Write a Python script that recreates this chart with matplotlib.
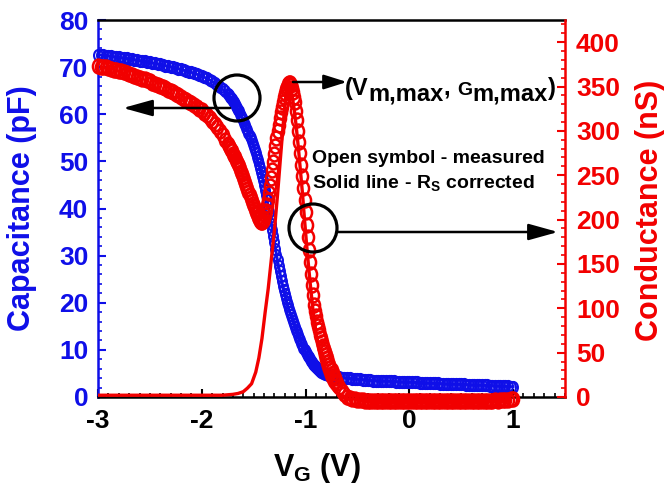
import matplotlib
matplotlib.use('Agg')
import matplotlib.pyplot as plt
from matplotlib.patches import Ellipse
from matplotlib.path import Path
from matplotlib.ticker import MultipleLocator

plt.rcParams['font.family'] = ['Liberation Sans', 'DejaVu Sans']
plt.rcParams['font.weight'] = 'bold'
plt.rcParams['axes.unicode_minus'] = False
plt.rcParams['mathtext.fontset'] = 'custom'
plt.rcParams['mathtext.rm'] = 'Liberation Sans:bold'
plt.rcParams['mathtext.bf'] = 'Liberation Sans:bold'
plt.rcParams['mathtext.it'] = 'Liberation Sans:bold'

BLUE = '#0f0fe8'
RED = '#f20000'

# ---- gate-voltage sweep of the measurement (V) ----
vg = [-3.000, -2.975, -2.950, -2.925, -2.900, -2.875, -2.850, -2.825, -2.800, -2.775,
      -2.750, -2.725, -2.700, -2.675, -2.650, -2.625, -2.600, -2.575, -2.550, -2.525,
      -2.500, -2.475, -2.450, -2.425, -2.400, -2.375, -2.350, -2.325, -2.300, -2.275,
      -2.250, -2.225, -2.200, -2.175, -2.150, -2.125, -2.100, -2.075, -2.050, -2.025,
      -2.000, -1.975, -1.950, -1.925, -1.900, -1.875, -1.850, -1.825, -1.800, -1.775,
      -1.750,
      -1.74, -1.73, -1.72, -1.71, -1.70, -1.69, -1.68, -1.67, -1.66, -1.65,
      -1.64, -1.63, -1.62, -1.61, -1.60, -1.59, -1.58, -1.57, -1.56, -1.55,
      -1.54, -1.53, -1.52, -1.51, -1.50, -1.49, -1.48, -1.47, -1.46, -1.45,
      -1.44, -1.43, -1.42, -1.41, -1.40, -1.39, -1.38, -1.37, -1.36, -1.35,
      -1.34, -1.33, -1.32, -1.31, -1.30, -1.29, -1.28, -1.27, -1.26, -1.25,
      -1.24, -1.23, -1.22, -1.21, -1.20, -1.19, -1.18, -1.17, -1.16, -1.15,
      -1.14, -1.13, -1.12, -1.11, -1.10, -1.09, -1.08, -1.07, -1.06, -1.05,
      -1.04, -1.03, -1.02, -1.01, -1.00, -0.99, -0.98, -0.97, -0.96, -0.95,
      -0.94, -0.93, -0.92, -0.91, -0.90, -0.89, -0.88, -0.87, -0.86, -0.85,
      -0.84, -0.83, -0.82, -0.81, -0.80, -0.79, -0.78, -0.77, -0.76, -0.75,
      -0.74, -0.73, -0.72, -0.71, -0.70,
      -0.675, -0.650, -0.625, -0.600, -0.575, -0.550, -0.525, -0.500, -0.475, -0.450,
      -0.425, -0.400, -0.375, -0.350, -0.325, -0.300, -0.275, -0.250, -0.225, -0.200,
      -0.175, -0.150, -0.125, -0.100, -0.075, -0.050, -0.025, 0.000, 0.025, 0.050,
      0.075, 0.100, 0.125, 0.150, 0.175, 0.200, 0.225, 0.250, 0.275, 0.300,
      0.325, 0.350, 0.375, 0.400, 0.425, 0.450, 0.475, 0.500, 0.525, 0.550,
      0.575, 0.600, 0.625, 0.650, 0.675, 0.700, 0.725, 0.750, 0.775, 0.800,
      0.825, 0.850, 0.875, 0.900, 0.925, 0.950, 0.975, 1.000]

# ---- capacitance (left axis, pF) ----
cap_pf = [72.6, 72.55, 72.5, 72.45, 72.4, 72.3, 72.2, 72.15, 72.1, 72.0,
          71.9, 71.85, 71.8, 71.7, 71.6, 71.5, 71.4, 71.3, 71.2, 71.1,
          71.0, 70.9, 70.8, 70.7, 70.6, 70.45, 70.3, 70.2, 70.1, 69.95,
          69.8, 69.65, 69.5, 69.35, 69.2, 69.05, 68.9, 68.7, 68.5, 68.3,
          68.1, 67.85, 67.6, 67.3, 67.0, 66.6, 66.2, 65.75, 65.3, 64.85,
          64.3,
          64.0, 63.75, 63.5, 63.2, 62.9, 62.55, 62.2, 61.8, 61.4, 61.0,
          60.6, 60.15, 59.7, 59.2, 58.7, 58.2, 57.7, 57.15, 56.6, 56.0,
          55.45, 54.9, 54.3, 53.65, 53.0, 52.35, 51.7, 51.0, 50.25, 49.5,
          48.7, 47.85, 47.0, 46.0, 45.0, 44.0, 42.9, 41.75, 40.6, 39.35,
          38.1, 36.8, 35.45, 34.1, 32.8, 31.5, 30.2, 29.0, 27.8, 26.7,
          25.6, 24.6, 23.6, 22.7, 21.85, 21.0, 20.2, 19.45, 18.7, 18.0,
          17.35, 16.7, 16.1, 15.5, 14.9, 14.3, 13.7, 13.15, 12.6, 12.05,
          11.5, 11.0, 10.5, 10.05, 9.6, 9.2, 8.8, 8.4, 8.05, 7.7,
          7.4, 7.1, 6.85, 6.6, 6.35, 6.1, 5.9, 5.7, 5.55, 5.4,
          5.25, 5.1, 5.0, 4.9, 4.85, 4.8, 4.7, 4.65, 4.55, 4.5,
          4.45, 4.4, 4.3, 4.25, 4.2,
          4.15, 4.1, 4.05, 4.0, 3.95, 3.9, 3.85, 3.8, 3.75, 3.7,
          3.65, 3.6, 3.55, 3.5, 3.48, 3.45, 3.42, 3.4, 3.38, 3.35,
          3.32, 3.3, 3.28, 3.25, 3.22, 3.2, 3.18, 3.15, 3.12, 3.1,
          3.08, 3.05, 3.02, 3.0, 2.98, 2.95, 2.92, 2.9, 2.88, 2.85,
          2.82, 2.8, 2.78, 2.75, 2.72, 2.7, 2.69, 2.68, 2.66, 2.65,
          2.62, 2.6, 2.58, 2.55, 2.52, 2.5, 2.48, 2.45, 2.42, 2.4,
          2.38, 2.35, 2.32, 2.3, 2.28, 2.25, 2.22, 2.2]

# ---- measured conductance (right axis, nS) ----
g_meas = [373, 372.5, 372, 371.5, 371, 370, 369, 368.5, 368, 367,
          366, 365, 364, 363, 362, 361, 360, 359, 358, 357,
          356, 354.5, 353, 352, 351, 349.5, 348, 346.5, 345, 343.5,
          342, 340, 338, 336.5, 335, 333, 331, 329, 327, 325,
          323, 320.5, 318, 315, 311.5, 308, 304, 300, 295, 290,
          285,
          283, 281, 279, 277, 274.5, 272, 270, 267.5, 265, 262.5,
          260, 257, 254, 251, 248, 244.5, 241, 238, 234.5, 231,
          228, 224.5, 221, 218, 215, 212, 209, 206, 203, 200.5,
          198.5, 197.5, 197, 198.5, 201, 205, 210, 216, 222, 230,
          238, 247, 256, 265, 274, 283, 292, 300, 307, 314,
          321, 327, 333, 338, 343, 347, 350, 352.5, 354, 354,
          352, 348.5, 344, 338.5, 332, 322.5, 312, 300, 288, 275,
          262, 249, 236, 222, 208, 194, 180, 166, 152, 139,
          126, 115, 104, 97, 91, 85, 80, 75, 70, 66,
          62, 58, 54, 50.5, 47, 43.5, 40, 36.5, 33, 30,
          27, 24, 21, 18.5, 16,
          11, 6.5, 3, 0.5, -1, -2, -2.5, -3, -3.5, -3.5,
          -4, -4, -4, -4.5, -4, -4, -4.5, -4.5, -4, -4.5,
          -4.5, -5, -4.5, -4.5, -5, -4.5, -5, -5, -4.5, -5,
          -5, -4.5, -5, -5, -5, -4.5, -5, -5, -5, -4.5,
          -5, -5, -4.5, -5, -5, -4.5, -5, -4.5, -4.5, -5,
          -4.5, -4.5, -4, -4.5, -4.5, -4, -4.5, -4, -4, -4,
          -3.5, -4, -3.5, -3.5, -3, -3, -2.5, -2]

# ---- Rs-corrected conductance (right axis, nS) ----
vg_corr = [-3.00, -2.80, -2.60, -2.40, -2.20, -2.00, -1.80, -1.70, -1.65, -1.60,
           -1.56, -1.52, -1.48, -1.45, -1.42, -1.39, -1.36, -1.33, -1.30, -1.27,
           -1.24, -1.21, -1.19, -1.17, -1.15, -1.13, -1.11, -1.09, -1.07, -1.05,
           -1.03, -1.01, -0.99, -0.97, -0.95, -0.93, -0.91, -0.89, -0.87, -0.85,
           -0.82, -0.79, -0.76, -0.72, -0.68, -0.64, -0.60, -0.40, 0.00, 0.50,
           1.00]
g_corr = [2, 2, 2, 2, 2, 2, 2, 3, 4, 6,
          10, 15, 28, 44, 66, 95, 122, 155, 188, 228,
          272, 315, 340, 352, 350, 340, 325, 305, 282, 256,
          230, 200, 172, 146, 122, 100, 82, 66, 53, 42,
          30, 20, 13, 7, 3, 1, 0, 0, 0, 0,
          0]

x_ticks = [-3, -2, -1, 0, 1]

assert len(vg) == len(cap_pf) == len(g_meas), (len(vg), len(cap_pf), len(g_meas))
assert len(vg_corr) == len(g_corr)

# elliptical open marker (symbols are slightly taller than wide in the original)
_uc = Path.unit_circle()
oval = Path(_uc.vertices * [0.8, 1.0], _uc.codes)

W, H = 665, 497
fig = plt.figure(figsize=(W / 100, H / 100), dpi=100)
L, R, B, T = 98, 565, 397, 20
ax1 = fig.add_axes([L / W, 1 - B / H, (R - L) / W, (B - T) / H])
ax2 = ax1.twinx()

ax1.plot(vg, cap_pf, color=BLUE, lw=2.0, zorder=2)
ax1.plot(vg, cap_pf, ls='none', marker=oval, ms=8, mfc='none', mec=BLUE,
         mew=1.5, clip_on=False, zorder=3)
ax2.plot(vg, g_meas, ls='none', marker=oval, ms=10, mfc='none', mec=RED,
         mew=1.8, clip_on=False, zorder=3)
ax2.plot(vg_corr, g_corr, color=RED, lw=2.4, zorder=4)

ax1.set_xlim(-3, 1.5)
ax1.set_ylim(0, 80)
ax2.set_ylim(0, 425)

ax1.set_xticks(x_ticks)
ax1.set_xticklabels([str(v) for v in x_ticks])
ax1.xaxis.set_minor_locator(MultipleLocator(0.1))
ax1.yaxis.set_major_locator(MultipleLocator(10))
ax1.yaxis.set_minor_locator(MultipleLocator(2))
ax2.yaxis.set_major_locator(MultipleLocator(50))
ax2.yaxis.set_minor_locator(MultipleLocator(10))

ax1.tick_params(axis='x', which='both', direction='in', colors='black',
                labelsize=19, pad=9, top=False)
ax1.tick_params(axis='x', which='major', length=6, width=1.5)
ax1.tick_params(axis='x', which='minor', length=3, width=1.2)
ax1.tick_params(axis='y', which='both', direction='in', colors=BLUE,
                labelsize=19, pad=7)
ax1.tick_params(axis='y', which='major', length=6, width=1.5)
ax1.tick_params(axis='y', which='minor', length=3, width=1.2)
ax2.tick_params(axis='y', which='both', direction='in', colors=RED,
                labelsize=19, pad=8)
ax2.tick_params(axis='y', which='major', length=6, width=1.5)
ax2.tick_params(axis='y', which='minor', length=3, width=1.2)
for lab in ax1.get_xticklabels() + ax1.get_yticklabels() + ax2.get_yticklabels():
    lab.set_fontweight('bold')

for s in ['top', 'bottom']:
    ax1.spines[s].set_color('black')
    ax1.spines[s].set_linewidth(1.8)
ax1.spines['left'].set_color(BLUE)
ax1.spines['left'].set_linewidth(1.8)
ax1.spines['right'].set_visible(False)
for s in ['top', 'bottom', 'left']:
    ax2.spines[s].set_visible(False)
ax2.spines['right'].set_color(RED)
ax2.spines['right'].set_linewidth(1.8)

# axis labels
fig.text(22 / W, 1 - 208 / H, 'Capacitance (pF)', rotation=90, ha='center',
         va='center', fontsize=22, fontweight='bold', color=BLUE)
fig.text(650 / W, 1 - 210 / H, 'Conductance (nS)', rotation=90, ha='center',
         va='center', fontsize=22, fontweight='bold', color=RED)
fig.text(317 / W, 1 - 476 / H, r'V$_{\mathregular{G}}$ (V)', ha='center',
         va='baseline', fontsize=22, fontweight='bold', color='black')

# annotations (axes fraction of ax2)
def fx(px):
    return (px - L) / (R - L)

def fy(py):
    return (B - py) / (B - T)

for cx, cy, d in [(237, 98, 46), (313, 228, 48)]:
    ax2.add_patch(Ellipse((fx(cx), fy(cy)), d / (R - L), d / (B - T),
                          transform=ax2.transAxes, fill=False, lw=2.3,
                          ec='black', zorder=6, clip_on=False))

arrow_kw = dict(arrowstyle='-|>,head_length=0.9,head_width=0.25', lw=1.8,
                color='black', shrinkA=0, shrinkB=0, mutation_scale=20)
ax2.annotate('', xy=(fx(123), fy(108)), xytext=(fx(230), fy(108)),
             xycoords='axes fraction', textcoords='axes fraction',
             arrowprops=arrow_kw, zorder=6)
ax2.annotate('', xy=(fx(558), fy(232)), xytext=(fx(337), fy(232)),
             xycoords='axes fraction', textcoords='axes fraction',
             arrowprops=arrow_kw, zorder=6)
arrow_kw2 = dict(arrow_kw)
arrow_kw2['arrowstyle'] = '-|>,head_length=0.7,head_width=0.22'
ax2.annotate('', xy=(fx(347), fy(82)), xytext=(fx(293), fy(82)),
             xycoords='axes fraction', textcoords='axes fraction',
             arrowprops=arrow_kw2, zorder=6)

# "(Vm,max, Gm,max)" built from pieces with lowered "m,max"
renderer = fig.canvas.get_renderer()
x_px = 345
base_px = 95
pieces = [('(V', 17, 0), ('m,max', 17, 5), (', ', 17, 0), ('G', 14, 0),
          ('m,max', 17, 5), (')', 17, 0)]
for s, size, dy in pieces:
    t = fig.text(x_px / W, 1 - (base_px + dy) / H, s, ha='left', va='baseline',
                 fontsize=size, fontweight='bold', color='black')
    bb = t.get_window_extent(renderer=renderer)
    x_px = bb.x1

fig.text(312 / W, 1 - 163 / H, 'Open symbol - measured', ha='left',
         va='baseline', fontsize=14, fontweight='bold', color='black')
fig.text(312 / W, 1 - 188 / H, r'Solid line - R$_{\mathregular{S}}$ corrected',
         ha='left', va='baseline', fontsize=14, fontweight='bold',
         color='black')

fig.savefig('out.png', dpi=100)
